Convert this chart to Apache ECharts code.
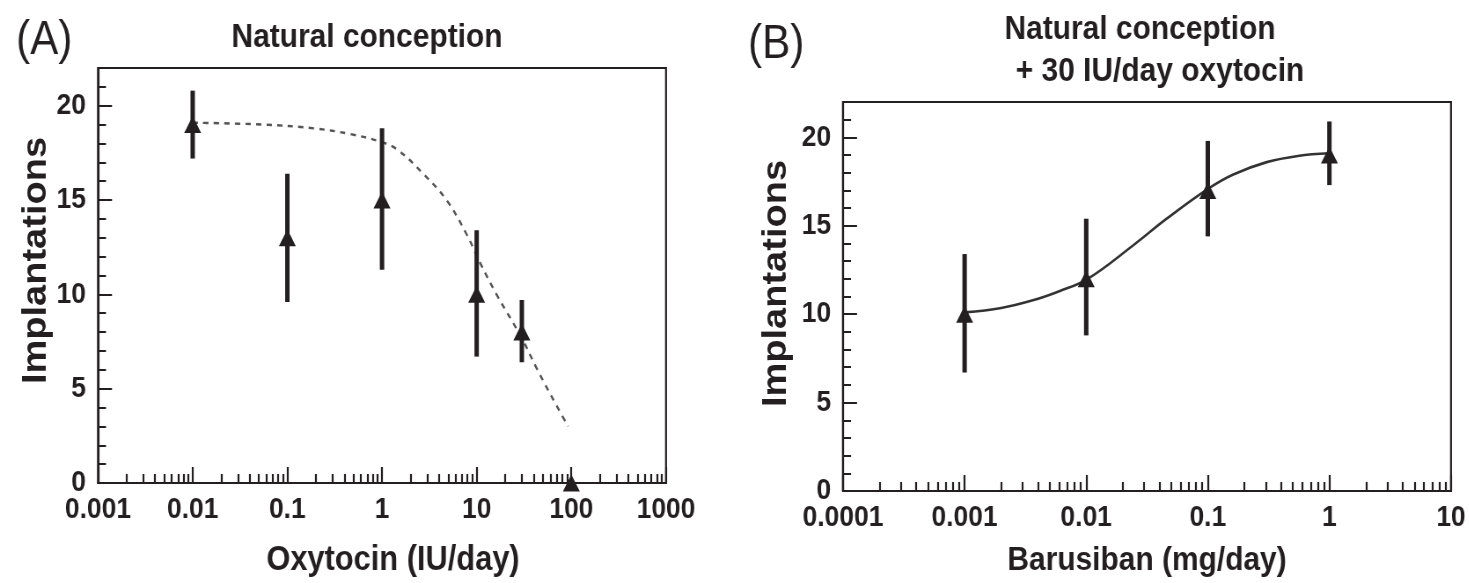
<!DOCTYPE html>
<html>
<head>
<meta charset="utf-8">
<script src="https://cdn.jsdelivr.net/npm/echarts@6/dist/echarts.min.js"></script>
<style>
html,body{margin:0;padding:0;background:#fff;overflow:hidden;}
#wrap{width:1469px;height:583px;overflow:hidden;}
#c{height:583px;transform-origin:0 0;}
</style>
</head>
<body>
<div id="wrap"><div id="c"></div></div>
<script>
// ---------- Panel A data ----------
var doseA = [0.01, 0.1, 1, 10, 30, 100];
var meanA = [19, 13, 15, 10, 8, 0];
var lowA  = [17.2, 9.6, 11.3, 6.7, 6.4, 0];
var highA = [20.8, 16.4, 18.8, 13.4, 9.7, 0];
var fitAx = [0.01, 0.056, 0.19, 0.46, 0.95, 1.43, 2.72, 4.8, 7.8, 10.8, 16.2, 29.8, 42.8, 69.8, 92.5];
var fitAy = [19.1, 19.0, 18.8, 18.5, 18.1, 17.7, 16.4, 15.0, 13.2, 11.7, 10.0, 7.7, 6.1, 4.1, 3.0];
var xTicksA = [0.001, 0.01, 0.1, 1, 10, 100, 1000];
var xLabelsA = ['0.001', '0.01', '0.1', '1', '10', '100', '1000'];

// ---------- Panel B data ----------
var doseB = [0.001, 0.01, 0.1, 1];
var meanB = [10, 12, 17, 19];
var lowB  = [6.7, 8.8, 14.4, 17.3];
var highB = [13.4, 15.4, 19.8, 20.9];
var fitBx = [0.001, 0.002, 0.0037, 0.006, 0.0103, 0.0244, 0.0459, 0.101, 0.162, 0.305, 0.55, 1];
var fitBy = [10.1, 10.35, 10.8, 11.3, 12.0, 13.9, 15.4, 17.1, 17.9, 18.6, 18.95, 19.1];
var xTicksB = [0.0001, 0.001, 0.01, 0.1, 1, 10];
var xLabelsB = ['0.0001', '0.001', '0.01', '0.1', '1', '10'];

// ---------- shared y axis ticks ----------
var yTicks = [0, 5, 10, 15, 20];
var yLabels = ['0', '5', '10', '15', '20'];
var yMinorTicks = [1,2,3,4,6,7,8,9,11,12,13,14,16,17,18,19,21];
var minorMult = [2, 3, 4, 5, 6, 7, 8, 9];

// The reference figure is horizontally condensed; draw at a wider size and compress.
var SX = 0.88;
function hx(v) { return v / SX; }
var el = document.getElementById('c');
el.style.width = hx(1469) + 'px';
el.style.transform = 'scaleX(' + SX + ')';

function minorsFor(decades) {
  var out = [];
  for (var i = 0; i < decades.length - 1; i++) {
    for (var j = 0; j < minorMult.length; j++) out.push(decades[i] * minorMult[j]);
  }
  return out;
}
function zip(a, b) { return a.map(function (v, i) { return [v, b[i]]; }); }
function errData(x, lo, hi) {
  var out = [];
  for (var i = 0; i < x.length; i++) if (hi[i] > lo[i]) out.push([x[i], lo[i], hi[i]]);
  return out;
}
function labelFor(ticks, labels) {
  return function (v) {
    for (var i = 0; i < ticks.length; i++) {
      if (Math.abs(Math.log10(v) - Math.log10(ticks[i])) < 1e-6) return labels[i];
    }
    return '';
  };
}
function yLabelFor(v) {
  var i = yTicks.indexOf(Math.round(v));
  return i >= 0 ? yLabels[i] : '';
}

var INK = '#231f20';
var FONT = '"Liberation Sans", Arial, sans-serif';

function errRender(params, api) {
  var p1 = api.coord([api.value(0), api.value(1)]);
  var p2 = api.coord([api.value(0), api.value(2)]);
  return {
    type: 'line',
    shape: { x1: p1[0], y1: p1[1], x2: p2[0], y2: p2[1] },
    style: { stroke: INK, lineWidth: 5 }
  };
}

function mainX(grid, ticks, labels) {
  return {
    type: 'log', gridIndex: grid, logBase: 10,
    min: ticks[0], max: ticks[ticks.length - 1],
    position: 'bottom',
    axisLine: { show: true, lineStyle: { color: INK, width: 2 } },
    axisTick: { show: true, inside: true, length: 16, lineStyle: { color: INK, width: 2.2 }, customValues: ticks },
    axisLabel: { show: true, margin: 12, color: INK, fontFamily: FONT, fontWeight: 'bold', fontSize: 30,
                 customValues: ticks, formatter: labelFor(ticks, labels) },
    splitLine: { show: false }
  };
}
function minorX(grid, ticks) {
  return {
    type: 'log', gridIndex: grid, logBase: 10,
    min: ticks[0], max: ticks[ticks.length - 1],
    position: 'bottom',
    axisLine: { show: false },
    axisTick: { show: true, inside: true, length: 9, lineStyle: { color: INK, width: 2.2 }, customValues: minorsFor(ticks) },
    axisLabel: { show: false },
    splitLine: { show: false }
  };
}
function mainY(grid, gap, shift) {
  return {
    type: 'value', gridIndex: grid, min: 0, max: 22, position: 'left',
    name: 'Implantations', nameLocation: 'middle', nameRotate: 90, nameGap: gap,
    nameTextStyle: { color: INK, fontFamily: FONT, fontWeight: 'bold', fontSize: 38, padding: [0, 0, 0, shift] },
    axisLine: { show: true, lineStyle: { color: INK, width: 2.2 } },
    axisTick: { show: true, inside: true, length: hx(14), lineStyle: { color: INK, width: 2 }, customValues: yTicks },
    axisLabel: { show: true, margin: hx(12), color: INK, fontFamily: FONT, fontWeight: 'bold', fontSize: 30,
                 customValues: yTicks, formatter: yLabelFor },
    splitLine: { show: false }
  };
}
function minorY(grid) {
  return {
    type: 'value', gridIndex: grid, min: 0, max: 22, position: 'left',
    axisLine: { show: false },
    axisTick: { show: true, inside: true, length: hx(8), lineStyle: { color: INK, width: 2 }, customValues: yMinorTicks },
    axisLabel: { show: false },
    splitLine: { show: false }
  };
}

var xA = mainX(0, xTicksA, xLabelsA);
xA.name = 'Oxytocin (IU/day)'; xA.nameLocation = 'middle'; xA.nameGap = 60;
xA.nameTextStyle = { color: INK, fontFamily: FONT, fontWeight: 'bold', fontSize: 35, padding: [0, 0, 0, hx(22)] };
var xB = mainX(1, xTicksB, xLabelsB);
xB.name = 'Barusiban (mg/day)'; xB.nameLocation = 'middle'; xB.nameGap = 53;
xB.nameTextStyle = { color: INK, fontFamily: FONT, fontWeight: 'bold', fontSize: 34 };

var chart = echarts.init(el, null, { renderer: 'canvas' });
chart.setOption({
  backgroundColor: '#fff',
  animation: false,
  title: [
    { text: '(A)', left: hx(16), top: 17, padding: 0, textStyle: { color: INK, fontFamily: FONT, fontWeight: 'normal', fontSize: 48 } },
    { text: 'Natural conception', left: hx(367), top: 21, textAlign: 'center', padding: 0,
      textStyle: { color: INK, fontFamily: FONT, fontWeight: 'bold', fontSize: 34 } },
    { text: '(B)', left: hx(748), top: 21, padding: 0, textStyle: { color: INK, fontFamily: FONT, fontWeight: 'normal', fontSize: 48 } },
    { text: 'Natural conception', left: hx(1140), top: 13, textAlign: 'center', padding: 0,
      textStyle: { color: INK, fontFamily: FONT, fontWeight: 'bold', fontSize: 34 } },
    { text: '+ 30 IU/day oxytocin', left: hx(1160), top: 55, textAlign: 'center', padding: 0,
      textStyle: { color: INK, fontFamily: FONT, fontWeight: 'bold', fontSize: 34 } }
  ],
  grid: [
    { left: hx(98), top: 68, width: hx(568), height: 415, show: true, borderColor: INK, borderWidth: 2.2, backgroundColor: 'transparent' },
    { left: hx(843), top: 102, width: hx(608), height: 390, show: true, borderColor: INK, borderWidth: 2.2, backgroundColor: 'transparent' }
  ],
  xAxis: [xA, minorX(0, xTicksA), xB, minorX(1, xTicksB)],
  yAxis: [mainY(0, hx(44), 30), minorY(0), mainY(1, hx(50), 26), minorY(1)],
  series: [
    { type: 'line', xAxisIndex: 0, yAxisIndex: 0, data: zip(fitAx, fitAy), smooth: 0.4, symbol: 'none',
      lineStyle: { color: '#555', width: 2.4, type: [6, 6] }, z: 2 },
    { type: 'custom', xAxisIndex: 0, yAxisIndex: 0, data: errData(doseA, lowA, highA), renderItem: errRender, z: 3 },
    { type: 'scatter', xAxisIndex: 0, yAxisIndex: 0, data: zip(doseA, meanA), symbol: 'triangle', symbolSize: [hx(17), 17],
      itemStyle: { color: INK, opacity: 1 }, clip: false, z: 4 },

    { type: 'line', xAxisIndex: 2, yAxisIndex: 2, data: zip(fitBx, fitBy), smooth: 0.4, symbol: 'none',
      lineStyle: { color: '#333', width: 2.6 }, z: 2 },
    { type: 'custom', xAxisIndex: 2, yAxisIndex: 2, data: errData(doseB, lowB, highB), renderItem: errRender, z: 3 },
    { type: 'scatter', xAxisIndex: 2, yAxisIndex: 2, data: zip(doseB, meanB), symbol: 'triangle', symbolSize: [hx(17), 17],
      itemStyle: { color: INK, opacity: 1 }, clip: false, z: 4 }
  ]
});
</script>
</body>
</html>
